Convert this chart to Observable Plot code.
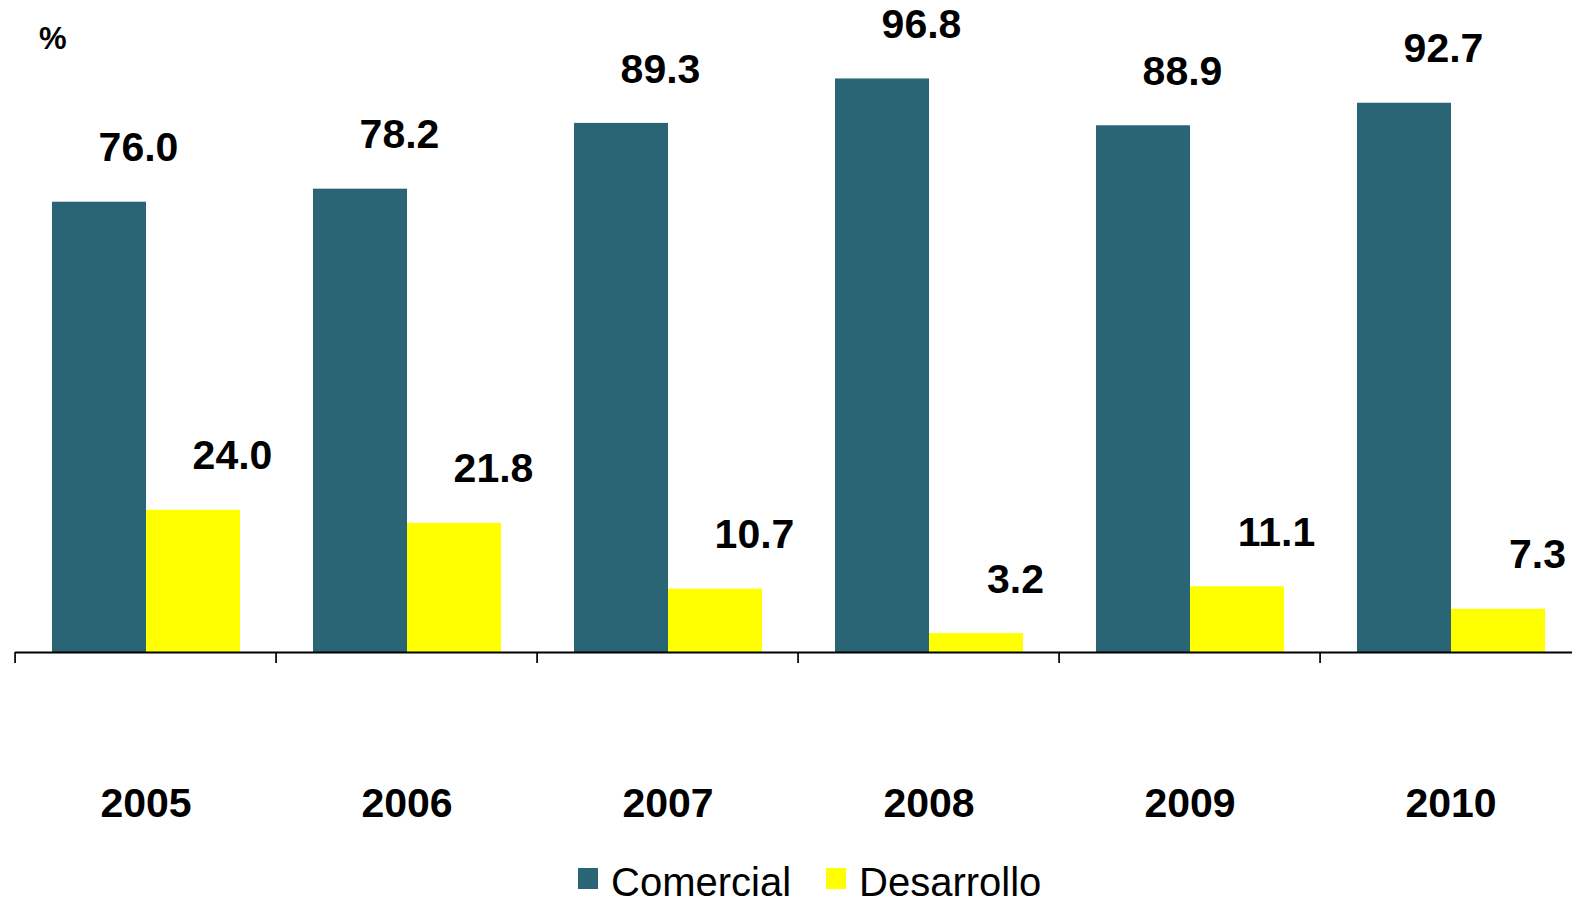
<!DOCTYPE html>
<html>
<head>
<meta charset="utf-8">
<script src="https://cdn.jsdelivr.net/npm/d3@7"></script>
<script src="https://cdn.jsdelivr.net/npm/@observablehq/plot@0.6"></script>
<style>
  html, body { margin: 0; padding: 0; background: #fff; overflow: hidden; width: 1572px; height: 905px; }
  #wrap { position: relative; width: 1572px; height: 905px; overflow: hidden; font-family: "Liberation Sans", Arial, sans-serif; color: #000; }
  #chart { position: absolute; left: 0; top: 0; width: 1583px; }
  #chart svg { max-width: none !important; }
  #unit { position: absolute; left: 39px; top: 23px; font-size: 31px; font-weight: bold; line-height: 31px; }
  #legend { position: absolute; left: 578px; top: 867px; display: flex; font-size: 40px; line-height: 30px; }
  .item { display: flex; align-items: flex-start; margin-right: 35px; }
  .sw { width: 20px; height: 21px; margin-top: 1px; margin-right: 13px; }
</style>
</head>
<body>
<div id="wrap">
  <div id="chart"></div>
  <div id="unit">%</div>
  <div id="legend"></div>
</div>
<script>
const years = ["2005", "2006", "2007", "2008", "2009", "2010"];
const comercial = [76.0, 78.2, 89.3, 96.8, 88.9, 92.7];
const desarrollo = [24.0, 21.8, 10.7, 3.2, 11.1, 7.3];
const series = ["Comercial", "Desarrollo"];
const colors = ["#2a6575", "#ffff00"];

const data = years.flatMap((year, i) => [
  {year, series: series[0], value: comercial[i]},
  {year, series: series[1], value: desarrollo[i]}
]);

const W = 1583, ML = 12, MR = 0;
const step = (W - ML - MR) / years.length;
const font = "'Liberation Sans', Arial, sans-serif";

const chart = Plot.plot({
  width: W,
  height: 845,
  marginLeft: ML,
  marginRight: MR,
  marginTop: 59.5,
  marginBottom: 193,
  style: {fontFamily: font, background: "transparent", overflow: "visible", color: "#000", maxWidth: "none"},
  fx: {domain: years, padding: 0, label: null, axis: null},
  x: {domain: series, paddingInner: 0, paddingOuter: 0.385, axis: null},
  y: {domain: [0, 100], axis: null},
  color: {domain: series, range: colors},
  marks: [
    Plot.barY(data, {fx: "year", x: "series", y: "value", fill: "series"}),
    Plot.ruleY([0], {stroke: "#000", strokeWidth: 2}),
    Plot.axisFx({anchor: "bottom", tickSize: 11, tickFormat: () => "", dx: -step / 2, stroke: "#000", strokeWidth: 1.7, strokeOpacity: 1}),
    Plot.axisFx({anchor: "bottom", tickSize: 0, tickPadding: 135, fontSize: 41, fontWeight: "bold", fill: "#000", label: null}),
    Plot.text(data, {
      fx: "year", x: "series", y: "value",
      text: d => d.value.toFixed(1),
      dx: 39, dy: -54,
      fontSize: 41, fontWeight: "bold", fill: "#000", textAnchor: "middle"
    })
  ]
});
document.getElementById("chart").appendChild(chart);

const legend = document.getElementById("legend");
series.forEach((s, i) => {
  const item = document.createElement("div");
  item.className = "item";
  const sw = document.createElement("div");
  sw.className = "sw";
  sw.style.background = colors[i];
  const label = document.createElement("span");
  label.textContent = s;
  item.appendChild(sw);
  item.appendChild(label);
  legend.appendChild(item);
});
</script>
</body>
</html>
